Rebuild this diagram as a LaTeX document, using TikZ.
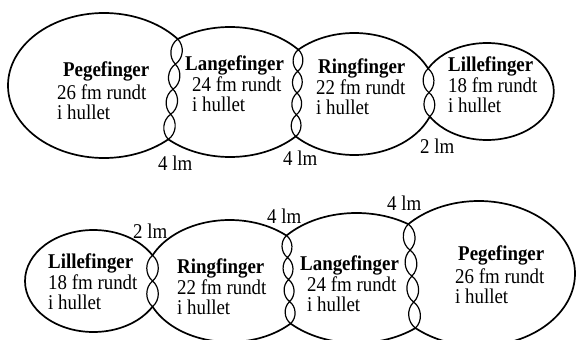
\documentclass[tikz,border=0pt]{standalone}
\usepackage{fontspec}
\setmainfont{Liberation Serif}[FakeStretch=0.9]
\usetikzlibrary{calc,intersections}

% the eight loops (pixel units, y downwards)
\newcommand\tPege{(104,85.5) ellipse [x radius=96, y radius=72.5]}
\newcommand\tLange{(230,92) ellipse [x radius=90, y radius=65]}
\newcommand\tRing{(354.2,94) ellipse [x radius=81.3, y radius=61]}
\newcommand\tLille{(487,91.5) ellipse [x radius=66.8, y radius=48.5]}
\newcommand\bLille{(93.4,281) ellipse [x radius=68.4, y radius=51]}
\newcommand\bRing{(229.7,281) ellipse [x radius=85, y radius=61]}
\newcommand\bLange{(356.5,278) ellipse [x radius=92.4, y radius=65]}
\newcommand\bPege{(478.8,273.5) ellipse [x radius=96.2, y radius=72.5]}
\newcommand\outside{(-20,-20) rectangle (600,380)}

% chain of small loops between two junction points
\newcommand\linkchain[3]{%
  \foreach \k in {1,...,#3}{%
    \draw[chainlink] ($(#1)!{(\k-1)/#3}!(#2)$) to[bend left=50] ($(#1)!{\k/#3}!(#2)$)
      to[bend left=50] ($(#1)!{(\k-1)/#3}!(#2)$);
  }}

\tikzset{
  finger/.style={line width=1.7pt},
  chainlink/.style={line width=1.2pt},
  lbl/.style={anchor=north west, inner sep=0pt, align=left,
    font=\fontsize{21}{20}\selectfont},
  lmlabel/.style={anchor=base west, inner sep=0pt, font=\fontsize{21}{21}\selectfont}
}

\begin{document}
\begin{tikzpicture}[x=1pt,y=-1pt]
\useasboundingbox (0,0) rectangle (576,340);

% top row
\begin{scope}[even odd rule]
  \clip \outside \tLange;
  \draw[finger] \tPege;
\end{scope}
\begin{scope}[even odd rule]
  \clip \outside \tPege;
  \clip \outside \tRing;
  \draw[finger] \tLange;
\end{scope}
\begin{scope}[even odd rule]
  \clip \outside \tLange;
  \clip \outside \tLille;
  \draw[finger] \tRing;
\end{scope}
\begin{scope}[even odd rule]
  \clip \outside \tRing;
  \draw[finger] \tLille;
\end{scope}

% bottom row
\begin{scope}[even odd rule]
  \clip \outside \bRing;
  \draw[finger] \bLille;
\end{scope}
\begin{scope}[even odd rule]
  \clip \outside \bLille;
  \clip \outside \bLange;
  \draw[finger] \bRing;
\end{scope}
\begin{scope}[even odd rule]
  \clip \outside \bRing;
  \clip \outside \bPege;
  \draw[finger] \bLange;
\end{scope}
\begin{scope}[even odd rule]
  \clip \outside \bLange;
  \draw[finger] \bPege;
\end{scope}

% junctions
\path[name path=tP] \tPege;
\path[name path=tL] \tLange;
\path[name path=tR] \tRing;
\path[name path=tS] \tLille;
\path[name path=bS] \bLille;
\path[name path=bR] \bRing;
\path[name path=bL] \bLange;
\path[name path=bP] \bPege;
\path[name intersections={of=tP and tL, by={ja1,ja2}}];
\path[name intersections={of=tL and tR, by={jb1,jb2}}];
\path[name intersections={of=tR and tS, by={jc1,jc2}}];
\path[name intersections={of=bS and bR, by={jd1,jd2}}];
\path[name intersections={of=bR and bL, by={je1,je2}}];
\path[name intersections={of=bL and bP, by={jf1,jf2}}];
\linkchain{ja1}{ja2}{4}
\linkchain{jb1}{jb2}{4}
\linkchain{jc1}{jc2}{2}
\linkchain{jd1}{jd2}{2}
\linkchain{je1}{je2}{4}
\linkchain{jf1}{jf2}{4}

% texts
\node[lbl] (tpege) at (57,62) {\hspace*{6pt}\textbf{Pegefinger}\\[3pt]26 fm rundt\\i hullet};
\node[lbl] (tlange) at (185,56) {\textbf{Langefinger}\\[1pt]\hspace*{7pt}24 fm rundt\\\hspace*{7pt}i hullet};
\node[lbl] (tring) at (316,59) {\hspace*{2pt}\textbf{Ringfinger}\\[1pt]22 fm rundt\\i hullet};
\node[lbl] (tlille) at (448,57) {\textbf{Lillefinger}\\[1pt]18 fm rundt\\i hullet};
\node[lbl] (blille) at (48,254) {\textbf{Lillefinger}\\[1pt]18 fm rundt\\i hullet};
\node[lbl] (bring) at (177,259) {\textbf{Ringfinger}\\[1pt]22 fm rundt\\i hullet};
\node[lbl] (blange) at (300,256) {\textbf{Langefinger}\\[1pt]\hspace*{7pt}24 fm rundt\\\hspace*{7pt}i hullet};
\node[lbl] (bpege) at (455,246) {\hspace*{3pt}\textbf{Pegefinger}\\[3pt]26 fm rundt\\i hullet};

\node[lmlabel] (ta) at (158,170) {4 lm};
\node[lmlabel] (tb) at (283,165) {4 lm};
\node[lmlabel] (tc) at (420,153) {2 lm};
\node[lmlabel] (bd) at (133,238) {2 lm};
\node[lmlabel] (be) at (267,223) {4 lm};
\node[lmlabel] (bf) at (387,210) {4 lm};
\end{tikzpicture}
\end{document}
